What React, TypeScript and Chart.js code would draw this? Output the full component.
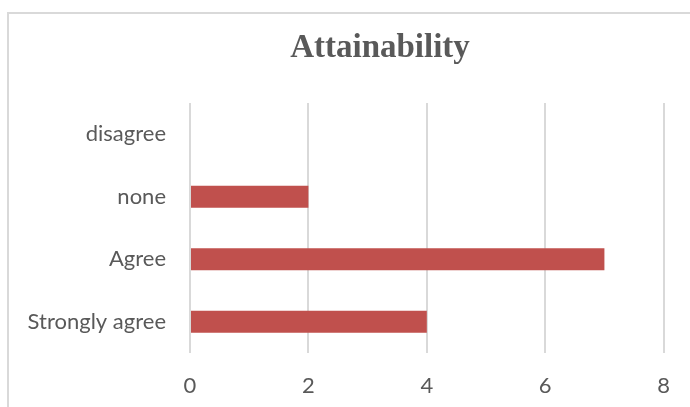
import React, { useEffect, useRef } from "react";
import { Chart, registerables } from "chart.js";

Chart.register(...registerables);

const titleText = "Attainability";
const categories = ["disagree", "none", "Agree", "Strongly agree"];
const responses = [0, 2, 7, 4];
const xTicks = [0, 2, 4, 6, 8];

const barColor = "#C0504D";
const textColor = "#595959";
const gridColor = "#d9d9d9";

// Chart title drawn left of the canvas centre, above the plot
const titlePlugin = {
  id: "offsetTitle",
  afterDraw(chart: Chart) {
    const { ctx } = chart;
    ctx.save();
    ctx.font = "bold 33px 'Liberation Serif', 'Times New Roman', serif";
    ctx.fillStyle = textColor;
    ctx.textAlign = "center";
    ctx.textBaseline = "alphabetic";
    ctx.fillText(titleText, 380, 57);
    ctx.restore();
  },
};

export default function App() {
  const canvasRef = useRef<HTMLCanvasElement | null>(null);

  useEffect(() => {
    if (!canvasRef.current) return;
    const chart = new Chart(canvasRef.current, {
      type: "bar",
      data: {
        labels: categories,
        datasets: [
          {
            label: titleText,
            data: responses,
            backgroundColor: barColor,
            borderWidth: 0,
            barPercentage: 0.352,
            categoryPercentage: 1,
          },
        ],
      },
      options: {
        indexAxis: "y",
        responsive: false,
        animation: false,
        layout: { padding: { top: 103, right: 26, left: 0, bottom: 0 } },
        plugins: {
          legend: { display: false },
          title: { display: false },
          tooltip: { enabled: false },
        },
        scales: {
          x: {
            min: xTicks[0],
            max: xTicks[xTicks.length - 1],
            afterBuildTicks: (scale: any) => {
              scale.ticks = xTicks.map((v) => ({ value: v }));
            },
            afterFit: (scale: any) => {
              scale.height = 54;
            },
            border: { display: false },
            grid: { color: gridColor, lineWidth: 2, drawTicks: false },
            ticks: {
              color: textColor,
              padding: 20,
              font: { family: "Lato, 'Noto Sans', sans-serif", size: 22 },
            },
          },
          y: {
            afterFit: (scale: any) => {
              scale.width = 190;
            },
            border: { display: false },
            grid: { display: false, drawTicks: false },
            ticks: {
              color: textColor,
              padding: 24,
              font: { family: "Lato, 'Noto Sans', sans-serif", size: 22 },
            },
          },
        },
      },
      plugins: [titlePlugin],
    });
    return () => chart.destroy();
  }, []);

  return (
    <div
      style={{
        position: "fixed",
        left: 0,
        top: 0,
        width: 690,
        height: 407,
        overflow: "hidden",
        background: "#ffffff",
      }}
    >
      <div
        style={{
          position: "absolute",
          left: 7,
          top: 12,
          width: 720,
          height: 440,
          borderLeft: `2px solid ${gridColor}`,
          borderTop: `2px solid ${gridColor}`,
        }}
      />
      <canvas
        ref={canvasRef}
        width={690}
        height={407}
        style={{ position: "absolute", left: 0, top: 0 }}
      />
    </div>
  );
}
